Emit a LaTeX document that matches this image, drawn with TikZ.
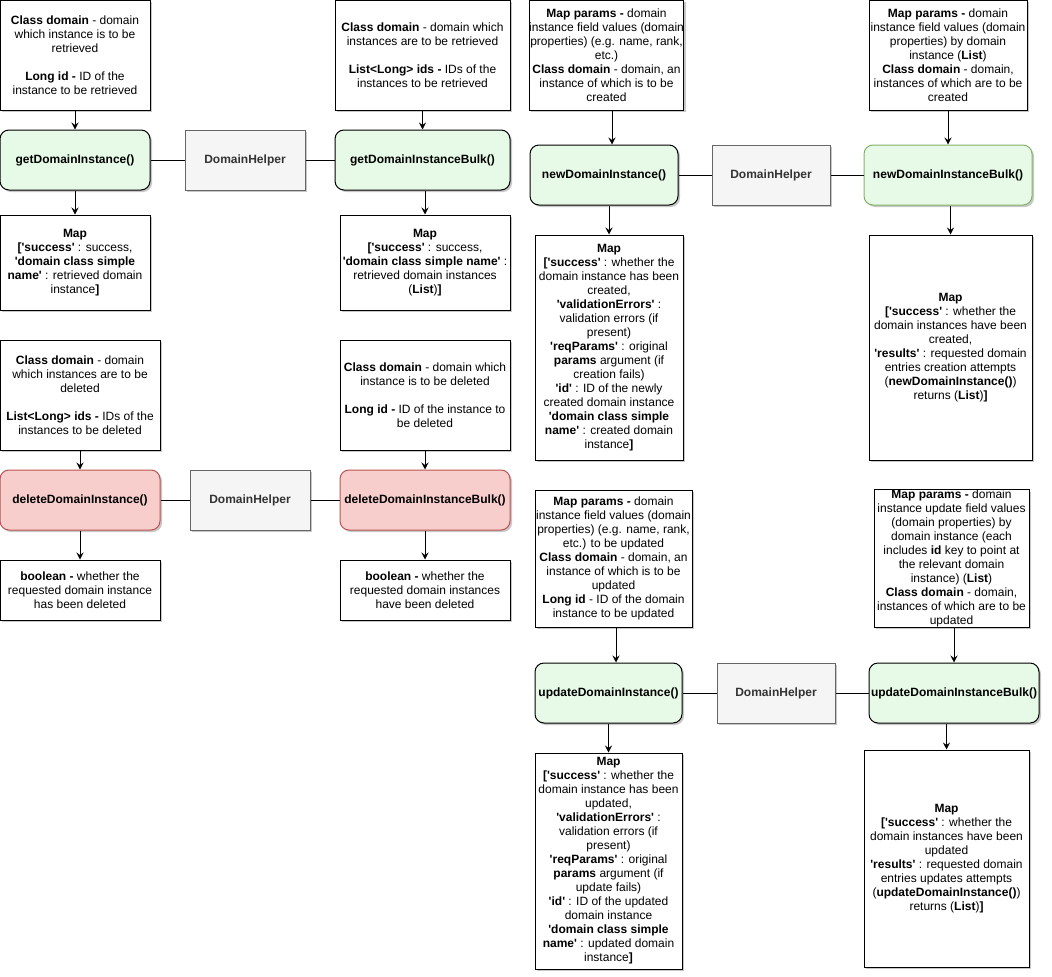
\documentclass[tikz,border=0pt]{standalone}
\usepackage{fontspec}
\setmainfont{Liberation Sans}
\usetikzlibrary{arrows.meta,shadows}
\definecolor{gfill}{RGB}{231,250,231}
\definecolor{gstroke}{RGB}{130,179,102}
\definecolor{rfill}{RGB}{248,206,204}
\definecolor{rstroke}{RGB}{184,84,80}
\definecolor{hfill}{RGB}{245,245,245}
\definecolor{hstroke}{RGB}{102,102,102}
\definecolor{htext}{RGB}{51,51,51}
\newcommand\sq{\textquotesingle}
\begin{document}
\begin{tikzpicture}[x=1pt,y=-1pt,
  base/.style={align=center, inner sep=0pt, line width=1pt,
    font=\fontsize{12}{14}\selectfont,
    drop shadow={shadow xshift=2pt,shadow yshift=-2pt,opacity=0.22,fill=black}},
  pbox/.style={base, draw=black, fill=white},
  gbox/.style={base, draw=black, fill=gfill, rounded corners=9pt, font=\fontsize{12}{14}\selectfont\bfseries},
  gboxl/.style={gbox, draw=gstroke},
  rbox/.style={base, draw=rstroke, fill=rfill, rounded corners=9pt, font=\fontsize{12}{14}\selectfont\bfseries},
  hbox/.style={base, draw=hstroke, fill=hfill, text=htext, font=\fontsize{12}{14}\selectfont\bfseries},
  arr/.style={-{Stealth[length=7pt,width=7pt,inset=2.5pt]}, line width=1pt},
  link/.style={line width=1pt}]
\useasboundingbox (0,0) rectangle (1052,977);

% ---------------- get ----------------
\node[pbox, minimum width=150, minimum height=110] (inA) at (75,55)
 {\textbf{Class domain} - domain\\which instance is to be\\retrieved\\[14pt]\textbf{Long id -} ID of the\\instance to be retrieved};
\node[gbox, minimum width=150, minimum height=60] (getI) at (75,160) {getDomainInstance()};
\node[hbox, minimum width=120, minimum height=60] (dh1) at (245,160) {DomainHelper};
\node[gbox, minimum width=175, minimum height=60] (getB) at (422.5,160) {getDomainInstanceBulk()};
\node[pbox, minimum width=175, minimum height=110] (inB) at (422.5,55)
 {\textbf{Class domain} - domain which\\instances are to be retrieved\\[14pt]\textbf{List<Long> ids -} IDs of the\\instances to be retrieved};
\node[pbox, minimum width=150, minimum height=95] (outA) at (75,262.5)
 {\textbf{Map}\\\textbf{{[}\sq success\sq} : success,\\\textbf{\sq domain class simple}\\\textbf{name\sq} : retrieved domain\\instance\textbf{]}};
\node[pbox, minimum width=170, minimum height=95] (outB) at (425,262.5)
 {\textbf{Map}\\\textbf{{[}\sq success\sq} : success,\\\textbf{\sq domain class simple name\sq} :\\retrieved domain instances\\(\textbf{List})\textbf{]}};
\draw[arr] (inA) -- (getI);
\draw[arr] (inB) -- (getB);
\draw[arr] (getI) -- (outA);
\draw[arr] (getB.south -| outB) -- (outB);
\draw[link] (getI) -- (dh1) -- (getB);

% ---------------- delete ----------------
\node[pbox, minimum width=160, minimum height=110] (inC) at (80,395)
 {\textbf{Class domain} - domain\\which instances are to be\\deleted\\[14pt]\textbf{List<Long> ids -} IDs of the\\instances to be deleted};
\node[rbox, minimum width=160, minimum height=60] (delI) at (80,500) {deleteDomainInstance()};
\node[hbox, minimum width=120, minimum height=60] (dh2) at (250,500) {DomainHelper};
\node[rbox, minimum width=170, minimum height=60] (delB) at (425,500) {deleteDomainInstanceBulk()};
\node[pbox, minimum width=170, minimum height=110] (inD) at (425,395)
 {\textbf{Class domain} - domain which\\instance is to be deleted\\[14pt]\textbf{Long id -} ID of the instance to\\be deleted};
\node[pbox, minimum width=160, minimum height=60] (outC) at (80,590)
 {\textbf{boolean -} whether the\\requested domain instance\\has been deleted};
\node[pbox, minimum width=170, minimum height=60] (outD) at (425,590)
 {\textbf{boolean -} whether the\\requested domain instances\\have been deleted};
\draw[arr] (inC) -- (delI);
\draw[arr] (inD) -- (delB);
\draw[arr] (delI) -- (outC);
\draw[arr] (delB) -- (outD);
\draw[link] (delI) -- (dh2) -- (delB);

% ---------------- new ----------------
\node[pbox, minimum width=153, minimum height=110] (inE) at (606.5,55)
 {\textbf{Map params -} domain\\instance field values (domain\\properties) (e.g. name, rank,\\etc.)\\\textbf{Class domain} - domain, an\\instance of which is to be\\created};
\node[gbox, minimum width=148, minimum height=60] (newI) at (604,175) {newDomainInstance()};
\node[hbox, minimum width=118, minimum height=60] (dh3) at (771,175) {DomainHelper};
\node[gboxl, minimum width=168, minimum height=60] (newB) at (948,175) {newDomainInstanceBulk()};
\node[pbox, minimum width=158, minimum height=110] (inF) at (948,55)
 {\textbf{Map params -} domain\\instance field values (domain\\properties) by domain\\instance (\textbf{List})\\\textbf{Class domain} - domain,\\instances of which are to be\\created};
\node[pbox, minimum width=148, minimum height=225] (outE) at (609,347.5)
 {\textbf{Map}\\\textbf{{[}\sq success\sq} : whether the\\domain instance has been\\created,\\\textbf{\sq validationErrors\sq} :\\validation errors (if\\present)\\\textbf{\sq reqParams\sq} : original\\\textbf{params} argument (if\\creation fails)\\\textbf{\sq id\sq} : ID of the newly\\created domain instance\\\textbf{\sq domain class simple}\\\textbf{name\sq} : created domain\\instance\textbf{]}};
\node[pbox, minimum width=163, minimum height=225] (outF) at (950.5,347.5)
 {\textbf{Map}\\\textbf{{[}\sq success\sq} : whether the\\domain instances have been\\created,\\\textbf{\sq results\sq} : requested domain\\entries creation attempts\\(\textbf{newDomainInstance()})\\returns (\textbf{List})\textbf{]}};
\draw[arr] (inE.south -| 612,0) -- (newI.north -| 612,0);
\draw[arr] (inF) -- (newB);
\draw[arr] (newI.south -| outE) -- (outE);
\draw[arr] (newB.south -| outF) -- (outF);
\draw[link] (newI) -- (dh3) -- (newB);

% ---------------- update ----------------
\node[pbox, minimum width=157, minimum height=137] (inG) at (613.5,558.5)
 {\textbf{Map params -} domain\\instance field values (domain\\properties) (e.g. name, rank,\\etc.) to be updated\\\textbf{Class domain} - domain, an\\instance of which is to be\\updated\\\textbf{Long id} - ID of the domain\\instance to be updated};
\node[gbox, minimum width=147, minimum height=60] (updI) at (608.5,693) {updateDomainInstance()};
\node[hbox, minimum width=118, minimum height=60] (dh4) at (776,693) {DomainHelper};
\node[gbox, minimum width=170, minimum height=60] (updB) at (954,693) {updateDomainInstanceBulk()};
\node[pbox, minimum width=155, minimum height=137] (inH) at (951.5,558.5)
 {\textbf{Map params -} domain\\instance update field values\\(domain properties) by\\domain instance (each\\includes \textbf{id} key to point at\\the relevant domain\\instance) (\textbf{List})\\\textbf{Class domain} - domain,\\instances of which are to be\\updated};
\node[pbox, minimum width=147, minimum height=216] (outG) at (608.5,861)
 {\textbf{Map}\\\textbf{{[}\sq success\sq} : whether the\\domain instance has been\\updated,\\\textbf{\sq validationErrors\sq} :\\validation errors (if\\present)\\\textbf{\sq reqParams\sq} : original\\\textbf{params} argument (if\\update fails)\\\textbf{\sq id\sq} : ID of the updated\\domain instance\\\textbf{\sq domain class simple}\\\textbf{name\sq} : updated domain\\instance\textbf{]}};
\node[pbox, minimum width=165, minimum height=217] (outH) at (946.5,858.5)
 {\textbf{Map}\\\textbf{{[}\sq success\sq} : whether the\\domain instances have been\\updated\\\textbf{\sq results\sq} : requested domain\\entries updates attempts\\(\textbf{updateDomainInstance()})\\returns (\textbf{List})\textbf{]}};
\draw[arr] (inG.south -| 616,0) -- (updI.north -| 616,0);
\draw[arr] (inH.south -| updB) -- (updB);
\draw[arr] (updI) -- (outG);
\draw[arr] (updB.south -| outH) -- (outH);
\draw[link] (updI) -- (dh4) -- (updB);
\end{tikzpicture}
\end{document}
